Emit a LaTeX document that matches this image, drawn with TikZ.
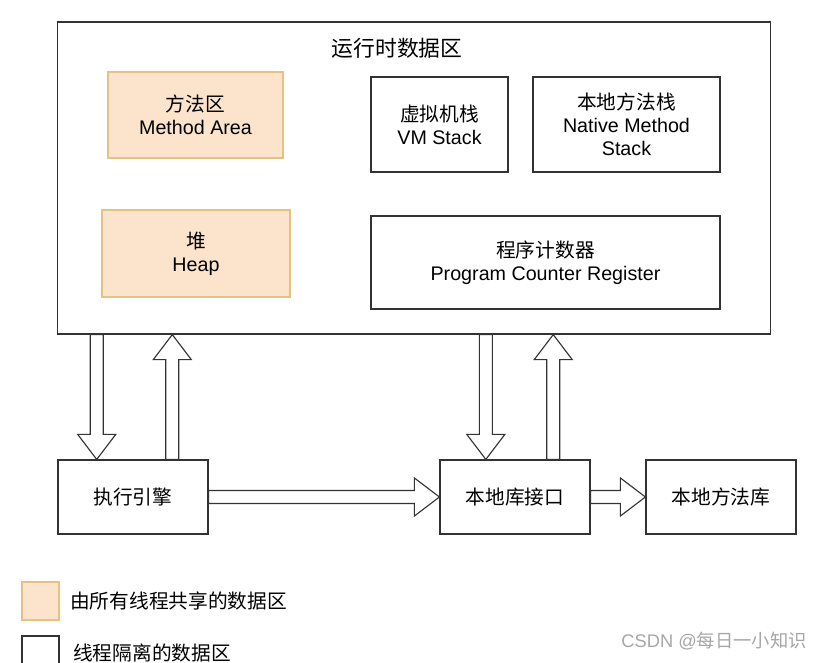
\documentclass[tikz,border=0pt]{standalone}
\usepackage{fontspec}
\setmainfont{Liberation Sans}
\newfontfamily\cjk{Noto Sans CJK SC}
\usetikzlibrary{calc}
\definecolor{peach}{RGB}{252,228,204}
\definecolor{peachedge}{RGB}{232,192,130}
\definecolor{edge}{RGB}{51,51,51}

\begin{document}
\begin{tikzpicture}[x=0.025cm,y=-0.025cm]
	\tikzstyle{area} = [draw=edge,line width=0.8pt,rectangle,align=center,font=\fontsize{14}{16.5}\selectfont]
	\tikzstyle{sharedarea} = [area,draw=peachedge,fill=peach]
	\tikzstyle{fat} = [draw=edge,line width=0.8pt,fill=white,to path={
		($(\tikztostart)!0.1625cm!90:(\tikztotarget)$)
		-- ($(\tikztotarget)!0.625cm!(\tikztostart)!0.1625cm!-90:(\tikztostart)$)
		-- ($(\tikztotarget)!0.625cm!(\tikztostart)!0.475cm!-90:(\tikztostart)$)
		-- (\tikztotarget)
		-- ($(\tikztotarget)!0.625cm!(\tikztostart)!0.475cm!90:(\tikztostart)$)
		-- ($(\tikztotarget)!0.625cm!(\tikztostart)!0.1625cm!90:(\tikztostart)$)
		-- ($(\tikztostart)!0.1625cm!-90:(\tikztotarget)$)
		-- cycle}]
	\useasboundingbox (0,0) rectangle (825,663);

	% runtime data area
	\node (rt) [area,minimum width=17.8cm,minimum height=7.8cm] at (414,178) {};
	\node (rttitle) [font=\fontsize{15.5}{18}\selectfont] at (397,48) {\cjk 运行时数据区};
	\node (ma) [sharedarea,minimum width=4.375cm,minimum height=2.15cm] at (195.5,115) {{\cjk 方法区}\\Method Area};
	\node (heap) [sharedarea,minimum width=4.7cm,minimum height=2.175cm] at (196,253.5) {{\cjk 堆}\\Heap};
	\node (vms) [area,minimum width=3.425cm,minimum height=2.375cm] at (439.5,124.5) {{\cjk 虚拟机栈}\\VM Stack};
	\node (nms) [area,minimum width=4.675cm,minimum height=2.375cm] at (626.5,124.5) {{\cjk 本地方法栈}\\Native Method\\Stack};
	\node (pc) [area,minimum width=8.725cm,minimum height=2.325cm] at (545.5,262.5) {{\cjk 程序计数器}\\Program Counter Register};

	% engine and native side
	\node (eng) [area,minimum width=3.75cm,minimum height=1.85cm] at (133,497) {\cjk 执行引擎};
	\node (lib) [area,minimum width=3.75cm,minimum height=1.85cm] at (515,497) {\cjk 本地库接口};
	\node (nat) [area,minimum width=3.75cm,minimum height=1.85cm] at (721,497) {\cjk 本地方法库};

	\coordinate (d1) at ($(eng.north west)!0.26!(eng.north east)$);
	\coordinate (d1top) at (d1 |- rt.south);
	\coordinate (u1) at ($(eng.north west)!0.76!(eng.north east)$);
	\coordinate (u1top) at (u1 |- rt.south);
	\coordinate (d2) at ($(lib.north west)!0.307!(lib.north east)$);
	\coordinate (d2top) at (d2 |- rt.south);
	\coordinate (u2) at ($(lib.north west)!0.753!(lib.north east)$);
	\coordinate (u2top) at (u2 |- rt.south);

	\draw[fat] (d1top) to (d1);
	\draw[fat] (u1) to (u1top);
	\draw[fat] (d2top) to (d2);
	\draw[fat] (u2) to (u2top);
	\draw[fat] (eng.east) to (lib.west);
	\draw[fat] (lib.east) to (nat.west);

	% legend
	\node (key1) [sharedarea,minimum width=0.925cm,minimum height=0.95cm] at (40.5,601) {};
	\node (key1txt) [anchor=west,inner sep=0pt,font=\fontsize{14}{16.5}\selectfont] at (70,601) {\cjk 由所有线程共享的数据区};
	\node (key2) [area,minimum width=0.925cm,minimum height=0.95cm] at (40.5,655) {};
	\node (key2txt) [anchor=west,inner sep=0pt,font=\fontsize{14}{16.5}\selectfont] at (73,653) {\cjk 线程隔离的数据区};

	\node (mark) [text=black!35,font=\fontsize{13}{15}\selectfont] at (714,641) {CSDN @{\cjk 每日一小知识}};
\end{tikzpicture}
\end{document}
